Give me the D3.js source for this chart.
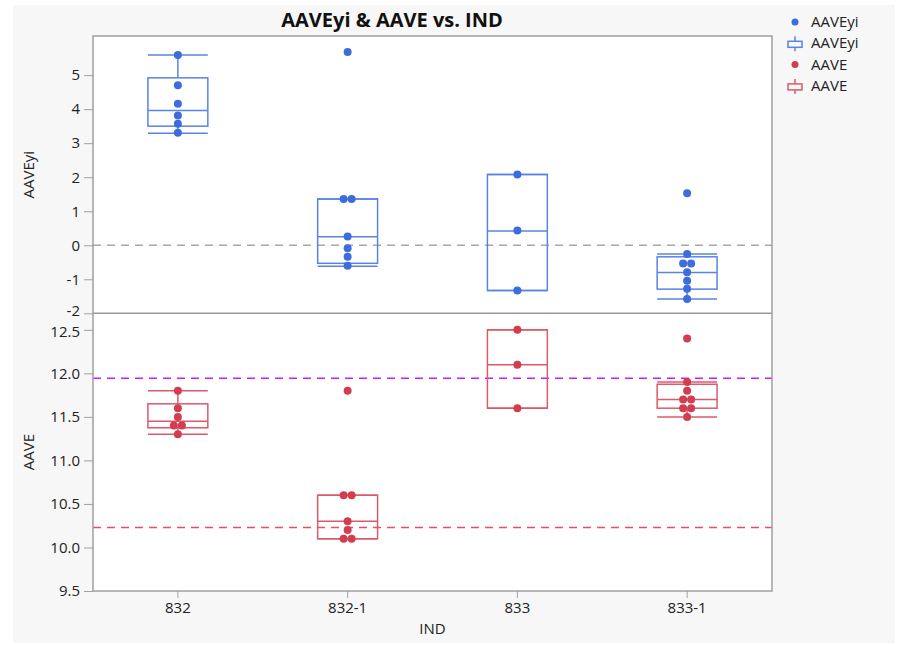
<!DOCTYPE html>
<html>
<head>
<meta charset="utf-8">
<script src="https://cdn.jsdelivr.net/npm/d3@7"></script>
<style>
  body { margin: 0; background: #ffffff; }
  svg { display: block; font-family: "Segoe UI", "Open Sans", "Noto Sans", sans-serif; }
</style>
</head>
<body>
<svg id="chart" width="897" height="645"></svg>
<script>
// categories on the x axis
const categories = ["832", "832-1", "833", "833-1"];

// AAVEyi (top panel) raw points per IND
const aaveyiPoints = [
    [5.59, 4.70, 4.16, 3.81, 3.57, 3.31],
    [5.68, 1.36, 1.36, 0.26, -0.09, -0.34, -0.60],
    [2.08, 0.43, -1.33],
    [1.53, -0.26, -0.54, -0.54, -0.79, -1.04, -1.28, -1.58]
];
// AAVEyi box stats
const aaveyiLo = [3.29, -0.62, -1.33, -1.58];
const aaveyiQ1 = [3.50, -0.53, -1.33, -1.29];
const aaveyiMed = [3.96, 0.25, 0.42, -0.80];
const aaveyiQ3 = [4.92, 1.36, 2.08, -0.34];
const aaveyiHi = [5.59, 1.36, 2.08, -0.26];

// AAVE (bottom panel) raw points per IND
const aavePoints = [
    [11.8, 11.6, 11.5, 11.4, 11.4, 11.3],
    [11.8, 10.6, 10.6, 10.3, 10.2, 10.1, 10.1],
    [12.5, 12.1, 11.6],
    [12.4, 11.9, 11.8, 11.7, 11.7, 11.6, 11.6, 11.5]
];
// AAVE box stats
const aaveLo = [11.3, 10.1, 11.6, 11.5];
const aaveQ1 = [11.375, 10.1, 11.6, 11.6];
const aaveMed = [11.45, 10.3, 12.1, 11.7];
const aaveQ3 = [11.65, 10.6, 12.5, 11.875];
const aaveHi = [11.8, 10.6, 12.5, 11.9];

// tick values
const topTicks = [5, 4, 3, 2, 1, 0, -1, -2];
const botTicks = [12.5, 12.0, 11.5, 11.0, 10.5, 10.0, 9.5];

// reference lines
const topRef = [0];
const botRef = [11.945, 10.23];

const svg = d3.select("#chart");

const plot = { left: 93, right: 772, top: 36, mid: 313.3, bottom: 591 };

const blueDot = "#3d6cdd", blueLine = "#5a83e6";
const redDot = "#d23e4f", redLine = "#dc5a6a";

// outer background
svg.append("rect").attr("x", 13).attr("y", 5).attr("width", 882).attr("height", 638)
    .attr("fill", "#f7f7f7");
svg.append("rect").attr("x", plot.left).attr("y", plot.top)
    .attr("width", plot.right - plot.left).attr("height", plot.bottom - plot.top)
    .attr("fill", "#ffffff");

const x = d3.scaleBand().domain(categories).range([plot.left, plot.right]).padding(0);
const yTop = d3.scaleLinear().domain([-2, 6.15]).range([plot.mid, plot.top]);
const yBot = d3.scaleLinear().domain([9.5, 12.69]).range([plot.bottom, plot.mid]);

const boxW = x.bandwidth() * 0.353;

// title
svg.append("text").attr("x", 392).attr("y", 27).attr("text-anchor", "middle")
    .attr("font-size", 20).attr("font-weight", "bold").attr("fill", "#111")
    .text("AAVEyi & AAVE vs. IND");

// axes
function styleAxis(g) {
    g.select(".domain").remove();
    g.selectAll(".tick line").attr("stroke", "#a0a0a0");
    g.selectAll(".tick text").attr("fill", "#222").attr("font-size", 15)
        .attr("font-family", "\"Segoe UI\", \"Open Sans\", \"Noto Sans\", sans-serif");
}

const topAxis = svg.append("g").attr("transform", `translate(${plot.left},0)`)
    .call(d3.axisLeft(yTop).tickValues(topTicks).tickFormat(d => String(d)).tickSize(9).tickPadding(4))
    .call(styleAxis);
// keep the bottom -2 label clear of the 12.5 label below it
topAxis.selectAll(".tick text").filter(d => d === -2).attr("dy", "0.12em");

const botAxis = svg.append("g").attr("transform", `translate(${plot.left},0)`)
    .call(d3.axisLeft(yBot).tickValues(botTicks).tickFormat(d3.format(".1f")).tickSize(9).tickPadding(4))
    .call(styleAxis);
botAxis.selectAll(".tick text").filter(d => d === 12.5).attr("dy", "0.42em");

svg.append("g").attr("transform", `translate(0,${plot.bottom})`)
    .call(d3.axisBottom(x).tickSize(7).tickPadding(4))
    .call(styleAxis);

// axis titles
svg.append("text").attr("transform", `translate(34,${(plot.top + plot.mid) / 2}) rotate(-90)`)
    .attr("text-anchor", "middle").attr("font-size", 15).attr("fill", "#222").text("AAVEyi");
svg.append("text").attr("transform", `translate(34,${(plot.mid + plot.bottom) / 2}) rotate(-90)`)
    .attr("text-anchor", "middle").attr("font-size", 15).attr("fill", "#222").text("AAVE");
svg.append("text").attr("x", (plot.left + plot.right) / 2).attr("y", 634)
    .attr("text-anchor", "middle").attr("font-size", 15).attr("fill", "#222").text("IND");

// reference lines
svg.selectAll(".refTop").data(topRef).join("line")
    .attr("x1", plot.left).attr("x2", plot.right)
    .attr("y1", d => yTop(d)).attr("y2", d => yTop(d))
    .attr("stroke", "#a8a8a8").attr("stroke-width", 1.3).attr("stroke-dasharray", "8,6");

const botRefColors = ["#c21cff", "#e8505f"];
svg.selectAll(".refBot").data(botRef).join("line")
    .attr("x1", plot.left).attr("x2", plot.right)
    .attr("y1", d => yBot(d)).attr("y2", d => yBot(d))
    .attr("stroke", (d, i) => botRefColors[i]).attr("stroke-width", 1.5).attr("stroke-dasharray", "8,6");

// box plots + points for one panel
function drawPanel(y, points, lo, q1, med, q3, hi, dotColor, lineColor) {
    const g = svg.append("g");
    categories.forEach((c, i) => {
        const cx = x(c) + x.bandwidth() / 2;
        const x0 = cx - boxW / 2, x1 = cx + boxW / 2;
        // whiskers
        g.append("line").attr("x1", cx).attr("x2", cx).attr("y1", y(q3[i])).attr("y2", y(hi[i]))
            .attr("stroke", lineColor).attr("stroke-width", 1.5);
        g.append("line").attr("x1", cx).attr("x2", cx).attr("y1", y(q1[i])).attr("y2", y(lo[i]))
            .attr("stroke", lineColor).attr("stroke-width", 1.5);
        // caps
        [lo[i], hi[i]].forEach(v => {
            g.append("line").attr("x1", x0).attr("x2", x1).attr("y1", y(v)).attr("y2", y(v))
                .attr("stroke", lineColor).attr("stroke-width", 1.5);
        });
        // box
        g.append("rect").attr("x", x0).attr("y", y(q3[i]))
            .attr("width", boxW).attr("height", y(q1[i]) - y(q3[i]))
            .attr("fill", "none").attr("stroke", lineColor).attr("stroke-width", 1.5);
        g.append("line").attr("x1", x0).attr("x2", x1).attr("y1", y(med[i])).attr("y2", y(med[i]))
            .attr("stroke", lineColor).attr("stroke-width", 1.5);

        // points, tied values spread sideways
        const counts = d3.rollup(points[i], v => v.length, d => d);
        const seen = new Map();
        const pts = points[i].map(v => {
            const n = counts.get(v);
            const k = seen.get(v) || 0;
            seen.set(v, k + 1);
            return { v, dx: (k - (n - 1) / 2) * 8 };
        });
        g.selectAll(null).data(pts).join("circle")
            .attr("cx", d => cx + d.dx).attr("cy", d => y(d.v)).attr("r", 4)
            .attr("fill", dotColor);
    });
}

drawPanel(yTop, aaveyiPoints, aaveyiLo, aaveyiQ1, aaveyiMed, aaveyiQ3, aaveyiHi, blueDot, blueLine);
drawPanel(yBot, aavePoints, aaveLo, aaveQ1, aaveMed, aaveQ3, aaveHi, redDot, redLine);

// frame
svg.append("rect").attr("x", plot.left).attr("y", plot.top)
    .attr("width", plot.right - plot.left).attr("height", plot.bottom - plot.top)
    .attr("fill", "none").attr("stroke", "#a0a0a0").attr("stroke-width", 1.5);
svg.append("line").attr("x1", plot.left).attr("x2", plot.right)
    .attr("y1", plot.mid).attr("y2", plot.mid)
    .attr("stroke", "#9a9a9a").attr("stroke-width", 1.5);

// legend
const legendItems = [
    { label: "AAVEyi", type: "dot", color: blueDot },
    { label: "AAVEyi", type: "box", color: blueLine },
    { label: "AAVE", type: "dot", color: redDot },
    { label: "AAVE", type: "box", color: redLine }
];
const legend = svg.append("g").attr("transform", "translate(795,22)");
legendItems.forEach((d, i) => {
    const row = legend.append("g").attr("transform", `translate(0,${i * 21.3})`);
    if (d.type === "dot") {
        row.append("circle").attr("r", 3.5).attr("fill", d.color);
    } else {
        row.append("line").attr("x1", 0).attr("x2", 0).attr("y1", -7).attr("y2", 8)
            .attr("stroke", d.color).attr("stroke-width", 1.5);
        row.append("rect").attr("x", -7).attr("y", -2).attr("width", 14).attr("height", 6)
            .attr("fill", "#f7f7f7").attr("stroke", d.color).attr("stroke-width", 1.5);
    }
    row.append("text").attr("x", 16).attr("y", 5).attr("font-size", 15).attr("fill", "#222")
        .text(d.label);
});
</script>
</body>
</html>
